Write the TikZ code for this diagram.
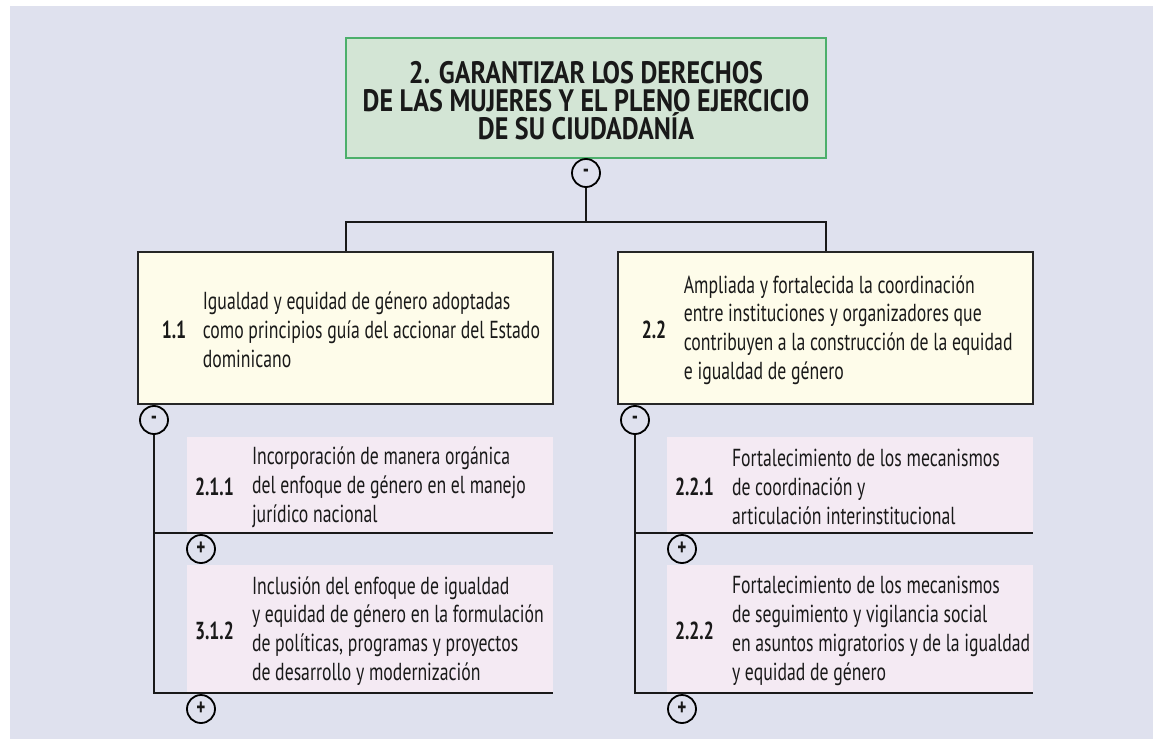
\documentclass[tikz,border=0pt]{standalone}
\usepackage{fontspec}
\setmainfont{PT Sans}[FakeStretch=0.72]
\newfontfamily\titlefont{PT Sans}[FakeStretch=0.84]
\usepackage{tikz}
\usetikzlibrary{positioning,calc}
\definecolor{bgcol}{HTML}{DFE1EE}
\definecolor{goalfill}{HTML}{D3E5D5}
\definecolor{goaldraw}{HTML}{4CAF6B}
\definecolor{resfill}{HTML}{FEFCEA}
\definecolor{subfill}{HTML}{F4EAF3}

\begin{document}
\begin{tikzpicture}[
  x=0.5pt, y=-0.5pt,
  every node/.style={font=\fontsize{12.3}{14.4}\selectfont, text=black!90},
  goalbox/.style={draw=goaldraw, line width=0.8pt, fill=goalfill, minimum width=240pt, minimum height=60pt, inner sep=0pt},
  resbox/.style={draw=black!85, line width=0.6pt, fill=resfill, minimum width=207.5pt, minimum height=76pt, inner sep=0pt},
  subbox/.style={fill=subfill, minimum width=183pt, inner sep=0pt},
  toggle/.style={circle, draw=black, line width=0.9pt, minimum size=14pt, inner sep=0pt, font=\fontsize{12}{12}\selectfont\bfseries},
  num/.style={anchor=west, inner sep=0pt, font=\fontsize{12.3}{14.4}\selectfont\bfseries},
  txt/.style={anchor=west, inner sep=0pt, align=left},
  link/.style={draw=black!90, line width=1pt}
]
\useasboundingbox (0,0) rectangle (1153,739);
\fill[bgcol] (10,6) rectangle (1153,739);

\node[goalbox] (goal) at (586,98) {};
\node[align=center, font=\titlefont\fontsize{15.5}{14}\selectfont\bfseries] (goaltxt) at (586,101)
  {2. GARANTIZAR LOS DERECHOS\\DE LAS MUJERES Y EL PLENO EJERCICIO\\DE SU CIUDADANÍA};
\node[toggle] (m0) at (586,173) {-};

\node[resbox] (r11) at (345.5,328) {};
\node[num] (n11) at ([xshift=12pt,yshift=-1pt]r11.west) {1.1};
\node[txt] (t11) at ([xshift=32.5pt,yshift=-1pt]r11.west)
  {Igualdad y equidad de género adoptadas\\como principios guía del accionar del Estado\\dominicano};
\node[toggle] (m11) at (154,420) {-};

\node[resbox] (r22) at (825.5,328) {};
\node[num] (n22) at ([xshift=12pt,yshift=-1pt]r22.west) {2.2};
\node[txt] (t22) at ([xshift=33pt,yshift=-1pt]r22.west)
  {Ampliada y fortalecida la coordinación\\entre instituciones y organizadores que\\contribuyen a la construcción de la equidad\\e igualdad de género};
\node[toggle] (m22) at (635,420) {-};

\node[subbox, minimum height=48pt] (s211) at (370,485) {};
\node[num] (n211) at ([xshift=4pt,yshift=-1pt]s211.west) {2.1.1};
\node[txt] (t211) at ([xshift=32.5pt,yshift=-1pt]s211.west)
  {Incorporación de manera orgánica\\del enfoque de género en el manejo\\jurídico nacional};
\node[toggle] (p211) at (201,549) {+};

\node[subbox, minimum height=64pt] (s312) at (370,629) {};
\node[num] (n312) at ([xshift=4pt,yshift=-1pt]s312.west) {3.1.2};
\node[txt] (t312) at ([xshift=32.5pt,yshift=-1pt]s312.west)
  {Inclusión del enfoque de igualdad\\y equidad de género en la formulación\\de políticas, programas y proyectos\\de desarrollo y modernización};
\node[toggle] (p312) at (201,709) {+};

\node[subbox, minimum height=48pt] (s221) at (850,485) {};
\node[num] (n221) at ([xshift=4pt,yshift=-1pt]s221.west) {2.2.1};
\node[txt] (t221) at ([xshift=32.5pt,yshift=-1pt]s221.west)
  {Fortalecimiento de los mecanismos\\de coordinación y\\articulación interinstitucional};
\node[toggle] (p221) at (682,549) {+};

\node[subbox, minimum height=64pt] (s222) at (850,629) {};
\node[num] (n222) at ([xshift=4pt,yshift=-1pt]s222.west) {2.2.2};
\node[txt] (t222) at ([xshift=32.5pt,yshift=-1pt]s222.west)
  {Fortalecimiento de los mecanismos\\de seguimiento y vigilancia social\\en asuntos migratorios y de la igualdad\\y equidad de género};
\node[toggle] (p222) at (682,709) {+};

\coordinate (bar) at (586,222);
\draw[link] (m0.south) -- (bar) -| (r11.north);
\draw[link] (bar) -| (r22.north);

\draw[link] (m11.south) -- (m11.south |- s312.south) -- (s312.south east);
\draw[link] (m11.south |- s211.south) -- (s211.south east);
\draw[link] (m22.south) -- (m22.south |- s222.south) -- (s222.south east);
\draw[link] (m22.south |- s221.south) -- (s221.south east);
\end{tikzpicture}
\end{document}
